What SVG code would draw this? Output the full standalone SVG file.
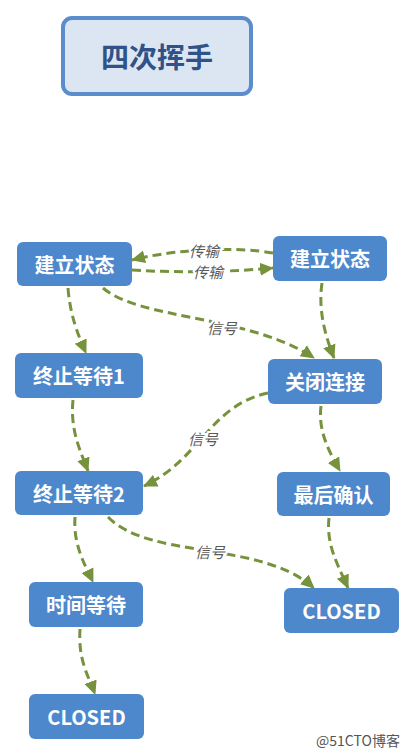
<svg xmlns="http://www.w3.org/2000/svg" width="416" height="756" viewBox="0 0 416 756">
<defs>
<style>
.node rect{fill:#4d87cc;}
.node text{fill:#fff;font-family:"Noto Sans CJK SC","Noto Sans",sans-serif;font-weight:700;font-size:20px;text-anchor:middle;dominant-baseline:central;}
.edge{fill:none;stroke:#76923c;stroke-width:3;stroke-dasharray:9 5;marker-end:url(#arr);}
.lbl{font-family:"Noto Sans CJK SC","Noto Sans",sans-serif;font-style:italic;font-size:15px;fill:#595959;text-anchor:middle;dominant-baseline:central;stroke:#fff;stroke-width:4;paint-order:stroke;}
</style>
<marker id="arr" markerUnits="userSpaceOnUse" markerWidth="15" markerHeight="15" viewBox="0 0 15 15" refX="13" refY="7.5" orient="auto">
<path d="M0,1 L14,7.5 L0,14 Z" fill="#76923c"/>
</marker>
</defs>
<rect width="416" height="756" fill="#fff"/>
<g id="title">
<rect x="63" y="18" width="188" height="76" rx="9" fill="#dce6f2" stroke="#5b8ccc" stroke-width="4"/>
<text x="157" y="56" font-family="'Noto Sans CJK SC','Noto Sans',sans-serif" font-weight="700" font-size="28" fill="#2f5289" text-anchor="middle" dominant-baseline="central">四次挥手</text>
</g>
<g id="connectors">
<path class="edge" d="M273,253 C240,247 180,248 132,260"/>
<path class="edge" d="M132,270 C180,273 230,272 273,268"/>
<path class="edge" d="M68,288 C70,315 78,335 86,353"/>
<path class="edge" d="M103,288 C140,320 250,315 314,358"/>
<path class="edge" d="M322,283 C318,310 325,335 334,358"/>
<path class="edge" d="M268,393 C210,405 200,460 144,486"/>
<path class="edge" d="M73,400 C70,430 80,450 88,471"/>
<path class="edge" d="M321,406 C318,430 328,450 340,471"/>
<path class="edge" d="M75,517 C73,545 85,565 93,582"/>
<path class="edge" d="M108,517 C150,560 260,540 314,588"/>
<path class="edge" d="M329,518 C326,545 338,565 348,588"/>
<path class="edge" d="M80,629 C78,660 88,675 95,694"/>
<text class="lbl" x="204" y="250">传输</text>
<text class="lbl" x="208" y="271">传输</text>
<text class="lbl" x="222" y="327">信号</text>
<text class="lbl" x="203" y="438">信号</text>
<text class="lbl" x="210" y="551">信号</text>
</g>
<g id="n1" class="node"><rect x="17" y="242" width="115" height="44" rx="6"/><text x="74.5" y="264">建立状态</text></g>
<g id="n2" class="node"><rect x="273" y="236" width="114" height="45" rx="6"/><text x="330" y="258.5">建立状态</text></g>
<g id="n3" class="node"><rect x="15" y="353" width="128" height="45" rx="6"/><text x="79" y="375.5">终止等待1</text></g>
<g id="n4" class="node"><rect x="268" y="359" width="114" height="45" rx="6"/><text x="325" y="381.5">关闭连接</text></g>
<g id="n5" class="node"><rect x="15" y="471" width="128" height="44" rx="6"/><text x="79" y="493">终止等待2</text></g>
<g id="n6" class="node"><rect x="277" y="472" width="113" height="44" rx="6"/><text x="333.5" y="494">最后确认</text></g>
<g id="n7" class="node"><rect x="29" y="582" width="114" height="45" rx="6"/><text x="86" y="604.5">时间等待</text></g>
<g id="n8" class="node"><rect x="284" y="588" width="115" height="45" rx="6"/><text x="341.5" y="610.5">CLOSED</text></g>
<g id="n9" class="node"><rect x="29" y="694" width="115" height="45" rx="6"/><text x="86.5" y="716.5">CLOSED</text></g>
<text x="358" y="740" font-family="'Noto Sans CJK SC','Noto Sans',sans-serif" font-size="14" fill="#555" text-anchor="middle" dominant-baseline="central">@51CTO博客</text>
</svg>
